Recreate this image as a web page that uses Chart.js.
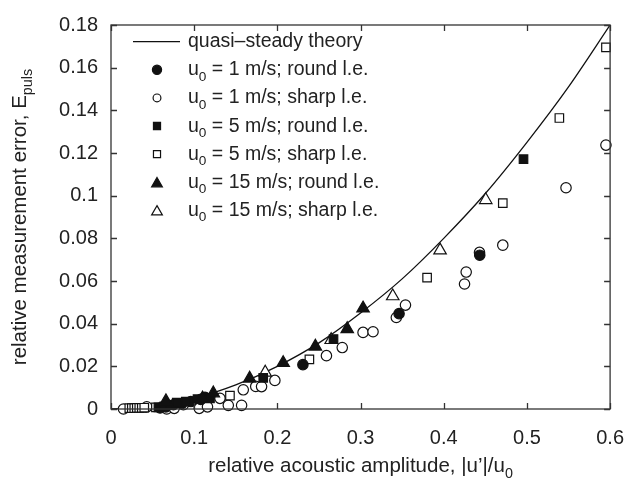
<!DOCTYPE html>
<html>
<head>
<meta charset="utf-8">
<script src="https://cdn.jsdelivr.net/npm/chart.js@4.4.1/dist/chart.umd.min.js"></script>
<style>
  html, body { margin: 0; padding: 0; background: #fff; }
  #wrap { width: 641px; height: 483px; position: relative; }
</style>
</head>
<body>
<div id="wrap"><canvas id="c" width="641" height="483"></canvas></div>
<script>
// ---- data ----
const xTicks = [0, 0.1, 0.2, 0.3, 0.4, 0.5, 0.6];
const yTicks = [0, 0.02, 0.04, 0.06, 0.08, 0.1, 0.12, 0.14, 0.16, 0.18];

const theoryX = [0, 0.05, 0.1, 0.15, 0.2, 0.25, 0.3, 0.35, 0.4, 0.45, 0.5, 0.55, 0.6];
const theoryY = [0, 0.0013, 0.005, 0.0113, 0.02, 0.031, 0.045, 0.061, 0.08, 0.101, 0.125, 0.151, 0.18];

// u0 = 1 m/s; round l.e.
const r1X = [0.059, 0.066, 0.075, 0.085, 0.096, 0.108, 0.113, 0.2307, 0.3463, 0.4433];
const r1Y = [0.0005, 0.001, 0.002, 0.0025, 0.0035, 0.0045, 0.0055, 0.0208, 0.0447, 0.0721];
// u0 = 1 m/s; sharp l.e.
const s1X = [0.015, 0.043, 0.067, 0.076, 0.087, 0.106, 0.116, 0.131, 0.141, 0.157, 0.159, 0.174, 0.181, 0.197, 0.259, 0.278, 0.303, 0.315, 0.343, 0.354, 0.425, 0.427, 0.443, 0.471, 0.547, 0.595];
const s1Y = [0.0, 0.001, 0.0, 0.0003, 0.002, 0.0003, 0.001, 0.005, 0.0017, 0.0017, 0.009, 0.0106, 0.0105, 0.0134, 0.025, 0.0288, 0.0359, 0.0362, 0.0429, 0.0487, 0.0586, 0.0642, 0.0734, 0.0768, 0.1037, 0.1237];
// u0 = 5 m/s; round l.e.
const r5X = [0.057, 0.064, 0.071, 0.079, 0.090, 0.104, 0.119, 0.183, 0.2675, 0.4959];
const r5Y = [0.0008, 0.0012, 0.002, 0.003, 0.0035, 0.0046, 0.005, 0.0146, 0.0328, 0.1171];
// u0 = 5 m/s; sharp l.e.
const s5X = [0.022, 0.025, 0.028, 0.031, 0.034, 0.037, 0.040, 0.054, 0.143, 0.2385, 0.380, 0.471, 0.539, 0.595];
const s5Y = [0.0004, 0.0004, 0.0004, 0.0005, 0.0005, 0.0005, 0.0006, 0.0008, 0.0063, 0.0233, 0.0616, 0.0965, 0.1364, 0.1695];
// u0 = 15 m/s; round l.e.
const r15X = [0.066, 0.110, 0.123, 0.1667, 0.207, 0.2457, 0.284, 0.303];
const r15Y = [0.0037, 0.005, 0.0074, 0.0143, 0.0216, 0.0293, 0.0375, 0.0472];
// u0 = 15 m/s; sharp l.e.
const s15X = [0.1854, 0.2647, 0.3387, 0.3956, 0.4505];
const s15Y = [0.0171, 0.0324, 0.0529, 0.0744, 0.098];

const legendLabels = [
  ["quasi\u2013steady theory", null, ""],
  ["u", "0", " = 1 m/s; round l.e."],
  ["u", "0", " = 1 m/s; sharp l.e."],
  ["u", "0", " = 5 m/s; round l.e."],
  ["u", "0", " = 5 m/s; sharp l.e."],
  ["u", "0", " = 15 m/s; round l.e."],
  ["u", "0", " = 15 m/s; sharp l.e."]
];

// ---- build ----
const pts = (xs, ys) => xs.map((x, i) => ({ x: x, y: ys[i] }));
const INK = '#111';
const FONT = '"Liberation Sans", Arial, Helvetica, sans-serif';

const markerStyles = [
  { pointStyle: 'circle', radius: 5.2, fill: INK, lr: 4.6, order: 3 },
  { pointStyle: 'circle', radius: 5.2, fill: '#fff', lr: 3.9, order: 7 },
  { pointStyle: 'rect', radius: 6.0, fill: INK, lr: 5.0, order: 2 },
  { pointStyle: 'rect', radius: 6.0, fill: '#fff', lr: 5.0, order: 6 },
  { pointStyle: 'triangle', radius: 7.2, fill: INK, lr: 6.2, order: 1 },
  { pointStyle: 'triangle', radius: 7.2, fill: '#fff', lr: 6.2, order: 5 }
];
const seriesData = [pts(r1X, r1Y), pts(s1X, s1Y), pts(r5X, r5Y), pts(s5X, s5Y), pts(r15X, r15Y), pts(s15X, s15Y)];

const datasets = [{
  type: 'line',
  data: pts(theoryX, theoryY),
  borderColor: INK,
  borderWidth: 1.3,
  pointRadius: 0,
  fill: false,
  cubicInterpolationMode: 'monotone',
  order: 10
}];
seriesData.forEach((d, i) => {
  const m = markerStyles[i];
  datasets.push({
    type: 'scatter',
    data: d,
    pointStyle: m.pointStyle,
    pointRadius: m.radius,
    pointBackgroundColor: m.fill,
    pointBorderColor: INK,
    pointBorderWidth: 1.2,
    clip: false,
    order: m.order
  });
});

function drawMarker(ctx, style, r, fill, x, y) {
  ctx.save();
  ctx.fillStyle = fill;
  ctx.strokeStyle = INK;
  ctx.lineWidth = 1.2;
  ctx.beginPath();
  if (style === 'circle') {
    ctx.arc(x, y, r, 0, Math.PI * 2);
  } else if (style === 'rect') {
    const s = Math.SQRT1_2 * r;
    ctx.rect(x - s, y - s, 2 * s, 2 * s);
  } else {
    const a = Math.PI * 2 / 3;
    ctx.moveTo(x, y - r);
    ctx.lineTo(x + Math.sin(a) * r, y - Math.cos(a) * r);
    ctx.lineTo(x + Math.sin(2 * a) * r, y - Math.cos(2 * a) * r);
    ctx.closePath();
  }
  ctx.fill();
  ctx.stroke();
  ctx.restore();
}

function subText(ctx, parts, x, y, size, align) {
  ctx.save();
  let total = 0;
  parts.forEach(p => {
    ctx.font = (p[1] ? size * 0.7 : size) + 'px ' + FONT;
    total += ctx.measureText(p[0]).width;
  });
  let cx = align === 'center' ? x - total / 2 : x;
  ctx.textAlign = 'left';
  ctx.textBaseline = 'alphabetic';
  parts.forEach(p => {
    ctx.font = (p[1] ? size * 0.7 : size) + 'px ' + FONT;
    ctx.fillText(p[0], cx, p[1] ? y + size * 0.28 : y);
    cx += ctx.measureText(p[0]).width;
  });
  ctx.restore();
}

const decor = {
  id: 'decor',
  afterDraw(chart) {
    const ctx = chart.ctx;
    const a = chart.chartArea;
    const xs = chart.scales.x, ys = chart.scales.y;
    ctx.save();
    ctx.strokeStyle = '#333';
    ctx.lineWidth = 1.3;
    ctx.strokeRect(a.left, a.top, a.right - a.left, a.bottom - a.top);
    const tl = 6;
    ctx.beginPath();
    xTicks.forEach(v => {
      const px = Math.round(xs.getPixelForValue(v)) + 0.5;
      ctx.moveTo(px, a.bottom); ctx.lineTo(px, a.bottom - tl);
      ctx.moveTo(px, a.top); ctx.lineTo(px, a.top + tl);
    });
    yTicks.forEach(v => {
      const py = Math.round(ys.getPixelForValue(v)) + 0.5;
      ctx.moveTo(a.left, py); ctx.lineTo(a.left + tl, py);
      ctx.moveTo(a.right, py); ctx.lineTo(a.right - tl, py);
    });
    ctx.stroke();
    ctx.restore();

    ctx.save();
    ctx.fillStyle = '#222';
    subText(ctx, [["relative acoustic amplitude, |u\u2019|/u", false], ["0", true]], (a.left + a.right) / 2, 472, 20.5, 'center');
    ctx.translate(26, (a.top + a.bottom) / 2);
    ctx.rotate(-Math.PI / 2);
    subText(ctx, [["relative measurement error, E", false], ["puls", true]], 0, 0, 20.5, 'center');
    ctx.restore();

    ctx.save();
    ctx.fillStyle = '#222';
    const c0 = 41.7, step = 28.1, fs = 19.5;
    legendLabels.forEach((lab, i) => {
      const cy = c0 + step * i;
      if (i === 0) {
        ctx.strokeStyle = INK; ctx.lineWidth = 1.3;
        ctx.beginPath(); ctx.moveTo(133, cy); ctx.lineTo(180, cy); ctx.stroke();
      } else {
        const m = markerStyles[i - 1];
        drawMarker(ctx, m.pointStyle, m.lr, m.fill, 157, cy + (m.pointStyle === 'triangle' ? 1.5 : 0));
      }
      const parts = lab[1] === null ? [[lab[0], false]] : [[lab[0], false], [lab[1], true], [lab[2], false]];
      subText(ctx, parts, 188, cy + 5.5, fs, 'left');
    });
    ctx.restore();
  }
};

const fmt = v => String(+(+v).toFixed(2));

new Chart(document.getElementById('c'), {
  data: { datasets: datasets },
  options: {
    responsive: false,
    animation: false,
    devicePixelRatio: 1,
    layout: { padding: { top: 20, right: 16, left: 0, bottom: 0 } },
    plugins: { legend: { display: false }, tooltip: { enabled: false } },
    scales: {
      x: {
        type: 'linear', min: 0, max: 0.6,
        afterBuildTicks: s => { s.ticks = xTicks.map(v => ({ value: v })); },
        afterFit: s => { s.height = 74; },
        grid: { drawOnChartArea: false, drawTicks: false },
        border: { display: false },
        ticks: { padding: 17, color: '#222', font: { family: FONT, size: 20 }, callback: fmt, maxRotation: 0, autoSkip: false }
      },
      y: {
        type: 'linear', min: 0, max: 0.18,
        afterBuildTicks: s => { s.ticks = yTicks.map(v => ({ value: v })); },
        afterFit: s => { s.width = 111; },
        grid: { drawOnChartArea: false, drawTicks: false },
        border: { display: false },
        ticks: { padding: 13, color: '#222', font: { family: FONT, size: 20 }, callback: fmt, autoSkip: false }
      }
    }
  },
  plugins: [decor]
});
</script>
</body>
</html>
